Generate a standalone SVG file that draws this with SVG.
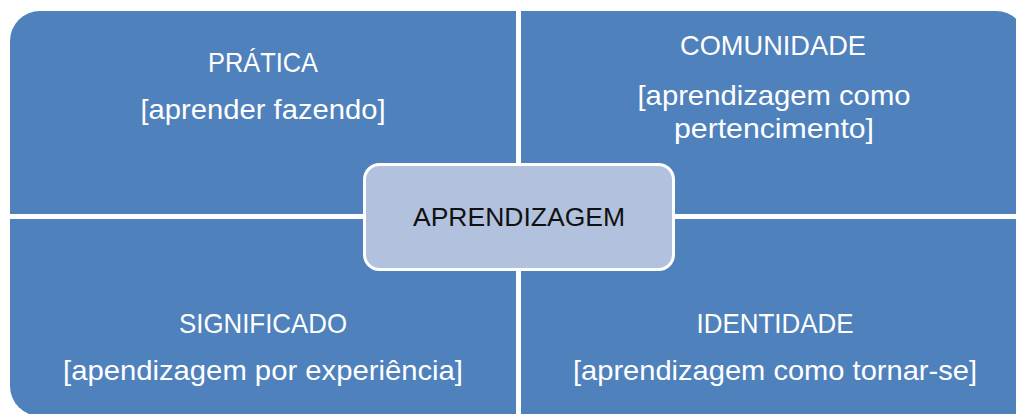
<svg xmlns="http://www.w3.org/2000/svg" width="1016" height="414" viewBox="0 0 1016 414">
<style>
.q{fill:#4F81BD}
.t{font-family:"Liberation Sans",Arial,sans-serif;font-size:28px;fill:#FFFFFF;text-anchor:middle}
.c{font-family:"Liberation Sans",Arial,sans-serif;font-size:26px;fill:#111111;text-anchor:middle}
</style>
<rect width="1016" height="414" fill="#FFFFFF"/>
<g id="pratica">
<path class="q" d="M10,41 A30,30 0 0 1 40,11 H516 V214 H10 Z"/>
<text class="t" x="263" y="72" textLength="110" lengthAdjust="spacingAndGlyphs">PRÁTICA</text>
<text class="t" x="263" y="119" textLength="245" lengthAdjust="spacingAndGlyphs">[aprender fazendo]</text>
</g>
<g id="comunidade">
<path class="q" d="M521,11 H996 A30,30 0 0 1 1026,41 V214 H521 Z"/>
<text class="t" x="773" y="55" textLength="186" lengthAdjust="spacingAndGlyphs">COMUNIDADE</text>
<text class="t" x="774" y="105" textLength="273" lengthAdjust="spacingAndGlyphs">[aprendizagem como</text>
<text class="t" x="774" y="138" textLength="200" lengthAdjust="spacingAndGlyphs">pertencimento]</text>
</g>
<g id="significado">
<path class="q" d="M10,219 H516 V416 H40 A30,30 0 0 1 10,386 Z"/>
<text class="t" x="263" y="333" textLength="168" lengthAdjust="spacingAndGlyphs">SIGNIFICADO</text>
<text class="t" x="263" y="380" textLength="400" lengthAdjust="spacingAndGlyphs">[apendizagem por experiência]</text>
</g>
<g id="identidade">
<path class="q" d="M521,219 H1026 V430 H521 Z"/>
<text class="t" x="775" y="333" textLength="157" lengthAdjust="spacingAndGlyphs">IDENTIDADE</text>
<text class="t" x="775" y="380" textLength="404" lengthAdjust="spacingAndGlyphs">[aprendizagem como tornar-se]</text>
</g>
<g id="connectors"></g>
<g id="aprendizagem">
<rect x="364.5" y="164.5" width="309" height="105" rx="15" fill="#B2C2DE" stroke="#FFFFFF" stroke-width="3"/>
<text class="c" x="519" y="226" textLength="212" lengthAdjust="spacingAndGlyphs">APRENDIZAGEM</text>
</g>
</svg>
